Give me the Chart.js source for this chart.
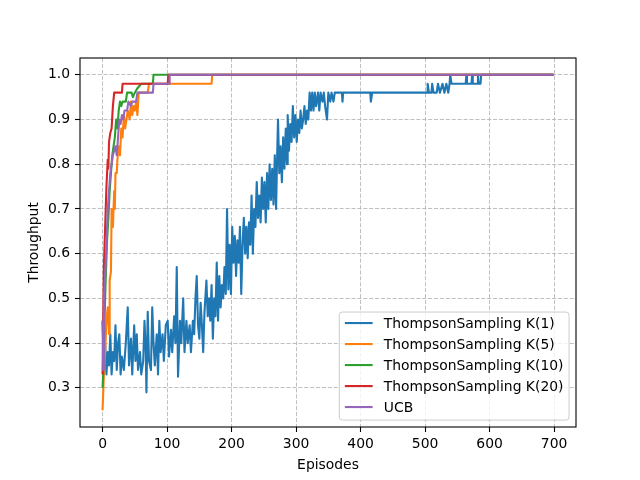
<!DOCTYPE html>
<html>
<head>
<meta charset="utf-8">
<script src="https://cdn.jsdelivr.net/npm/chart.js@4.4.1/dist/chart.umd.min.js"></script>
<style>
html,body{margin:0;padding:0;background:#fff;}
canvas{display:block;}
</style>
</head>
<body>
<canvas id="c" width="640" height="480"></canvas>
<script>
// ---------------- data ----------------
const seriesNames = ["ThompsonSampling K(1)", "ThompsonSampling K(5)", "ThompsonSampling K(10)", "ThompsonSampling K(20)", "UCB"];
const xTicks = [0, 100, 200, 300, 400, 500, 600, 700];
const yTicks = [0.3, 0.4, 0.5, 0.6, 0.7, 0.8, 0.9, 1.0];

const k1Episodes = [0,2,4,6,8,10,12,14,16,18,20,22,24,26,28,30,33,36,39,41,44,46,49,51,53,55,58,60,63,65,67,68,70,72,75,77,79,81,84,86,88,90,93,95,98,101,103,106,108,111,113,115,117,120,122,125,127,130,132,135,137,140,142,144,146,148,150,152,154,156,158,161,163,165,167,169,171,173,175,177,179,181,183,185,187,189,191,193,195,197,199,201,203,205,207,209,211,213,215,217,219,221,223,225,227,229,231,233,235,237,239,241,243,245,247,249,251,253,255,257,259,261,263,265,267,269,271,272,274,276,278,280,282,284,286,287,289,291,293,295,297,299,301,303,305,307,309,311,313,315,317,319,321,323,325,327,329,331,334,336,338,341,343,345,348,350,353,355,358,360,371,372,373,415,416,418,503,504,506,510,511,513,518,520,523,527,530,533,536,538,539,541,563,564,565,572,573,574,581,582,583,586,587,699];
const k1Values = [0.45,0.34,0.40,0.33,0.38,0.35,0.42,0.33,0.38,0.36,0.44,0.34,0.40,0.42,0.33,0.37,0.34,0.40,0.48,0.35,0.41,0.33,0.44,0.36,0.42,0.34,0.38,0.33,0.36,0.45,0.38,0.29,0.47,0.36,0.34,0.48,0.40,0.35,0.42,0.33,0.45,0.38,0.42,0.36,0.44,0.45,0.37,0.43,0.38,0.46,0.40,0.57,0.325,0.45,0.40,0.50,0.38,0.45,0.40,0.44,0.38,0.45,0.42,0.50,0.55,0.44,0.41,0.49,0.44,0.38,0.47,0.54,0.46,0.50,0.45,0.53,0.41,0.50,0.46,0.58,0.45,0.55,0.48,0.53,0.50,0.57,0.51,0.70,0.52,0.62,0.51,0.66,0.58,0.64,0.55,0.63,0.58,0.66,0.51,0.62,0.68,0.60,0.66,0.59,0.67,0.62,0.73,0.60,0.70,0.66,0.76,0.68,0.73,0.67,0.77,0.70,0.76,0.67,0.78,0.70,0.80,0.72,0.79,0.71,0.82,0.70,0.84,0.90,0.78,0.84,0.76,0.86,0.79,0.88,0.80,0.91,0.83,0.89,0.85,0.93,0.86,0.91,0.85,0.90,0.87,0.92,0.88,0.90,0.93,0.89,0.92,0.90,0.96,0.92,0.96,0.92,0.96,0.93,0.96,0.92,0.96,0.94,0.96,0.93,0.90,0.96,0.94,0.96,0.94,0.96,0.96,0.94,0.96,0.96,0.94,0.96,0.96,0.98,0.96,0.96,0.98,0.96,0.96,0.98,0.96,0.98,0.96,0.98,0.96,0.98,1.0,0.98,0.98,1.0,0.98,0.98,1.0,0.98,0.98,1.0,0.98,0.98,1.0,1.0];

const k5Episodes = [0,2,4,6,8,10,11,13,14,16,18,19,20,22,23,25,27,29,31,33,35,37,39,42,44,46,48,50,52,54,56,70,72,169,170,699];
const k5Values = [0.25,0.33,0.38,0.45,0.48,0.42,0.54,0.56,0.70,0.66,0.74,0.70,0.78,0.78,0.81,0.84,0.82,0.88,0.86,0.91,0.88,0.90,0.92,0.90,0.94,0.91,0.93,0.92,0.94,0.91,0.96,0.96,0.98,0.98,1.0,1.0];

const k10Episodes = [0,1,3,5,7,9,11,13,15,17,19,21,23,25,27,29,31,36,38,45,47,50,54,60,78,79,699];
const k10Values = [0.30,0.33,0.45,0.55,0.63,0.68,0.74,0.78,0.82,0.84,0.86,0.90,0.88,0.92,0.94,0.93,0.94,0.94,0.96,0.96,0.95,0.96,0.97,0.98,0.98,1.0,1.0];

const k20Episodes = [0,2,4,6,8,9,10,12,14,16,18,30,31,101,102,699];
const k20Values = [0.33,0.57,0.66,0.75,0.81,0.79,0.85,0.87,0.88,0.93,0.96,0.96,0.98,0.98,1.0,1.0];

const ucbEpisodes = [0,1,2,4,6,8,10,12,14,16,18,20,22,24,26,28,30,32,34,38,40,44,46,52,54,78,79,103,104,699];
const ucbValues = [0.45,0.34,0.50,0.55,0.62,0.70,0.74,0.78,0.80,0.82,0.83,0.84,0.82,0.86,0.90,0.89,0.91,0.90,0.92,0.92,0.94,0.93,0.94,0.94,0.96,0.96,0.98,0.98,1.0,1.0];

const colors = ["#1f77b4", "#ff7f0e", "#2ca02c", "#d62728", "#9467bd"];
// --------------------------------------

const allEpisodes = [k1Episodes, k5Episodes, k10Episodes, k20Episodes, ucbEpisodes];
const allValues = [k1Values, k5Values, k10Values, k20Values, ucbValues];

const FONT = "'DejaVu Sans', sans-serif";
const FS = 13.9;
Chart.defaults.font.family = FONT;
Chart.defaults.font.size = FS;
Chart.defaults.color = "#000";

const datasets = seriesNames.map((name, i) => ({
  label: name,
  data: allEpisodes[i].map((e, j) => ({x: e, y: allValues[i][j]})),
  borderColor: colors[i],
  backgroundColor: colors[i],
  borderWidth: 2.1,
  pointRadius: 0,
  tension: 0,
  fill: false,
  order: seriesNames.length - 1 - i,
  borderJoinStyle: 'round',
  borderCapStyle: 'butt'
}));

const framePlugin = {
  id: 'frameAndLegend',
  afterDatasetsDraw(chart) {
    const ctx = chart.ctx;
    const a = chart.chartArea;
    ctx.save();
    ctx.strokeStyle = '#000';
    ctx.lineWidth = 1.1;
    ctx.strokeRect(a.left, a.top, a.right - a.left, a.bottom - a.top);

    // legend (matplotlib style, lower right)
    ctx.font = FS + 'px ' + FONT;
    let maxW = 0;
    seriesNames.forEach(n => { maxW = Math.max(maxW, ctx.measureText(n).width); });
    const pad = 0.4 * FS, handleLen = 2.0 * FS, handlePad = 0.8 * FS, axPad = 0.5 * FS;
    const rowH = 21;
    const boxW = pad + handleLen + handlePad + maxW + pad;
    const boxH = 108;
    const right = a.right - axPad, bottom = a.bottom - axPad;
    const left = right - boxW, top = bottom - boxH;
    const r = 3;
    ctx.beginPath();
    ctx.moveTo(left + r, top);
    ctx.lineTo(right - r, top);
    ctx.arcTo(right, top, right, top + r, r);
    ctx.lineTo(right, bottom - r);
    ctx.arcTo(right, bottom, right - r, bottom, r);
    ctx.lineTo(left + r, bottom);
    ctx.arcTo(left, bottom, left, bottom - r, r);
    ctx.lineTo(left, top + r);
    ctx.arcTo(left, top, left + r, top, r);
    ctx.closePath();
    ctx.fillStyle = 'rgba(255,255,255,0.8)';
    ctx.fill();
    ctx.strokeStyle = '#cccccc';
    ctx.lineWidth = 1;
    ctx.stroke();

    ctx.textBaseline = 'middle';
    ctx.textAlign = 'left';
    seriesNames.forEach((n, i) => {
      const cy = top + 11 + i * rowH;
      ctx.strokeStyle = colors[i];
      ctx.lineWidth = 2.1;
      ctx.beginPath();
      ctx.moveTo(left + pad, cy);
      ctx.lineTo(left + pad + handleLen, cy);
      ctx.stroke();
      ctx.fillStyle = '#000';
      ctx.fillText(n, left + pad + handleLen + handlePad, cy + 1);
    });
    ctx.restore();
  }
};

new Chart(document.getElementById('c'), {
  type: 'line',
  data: { datasets },
  options: {
    responsive: false,
    animation: false,
    devicePixelRatio: 1,
    layout: { padding: { left: 0, right: 64, top: 58, bottom: 0 } },
    plugins: { legend: { display: false }, tooltip: { enabled: false } },
    scales: {
      x: {
        type: 'linear',
        min: -35, max: 734,
        afterBuildTicks: s => { s.ticks = xTicks.map(v => ({value: v})); },
        afterFit: s => { s.height = 53; },
        ticks: { padding: 4, maxRotation: 0, autoSkip: false, callback: v => String(v), font: {size: FS} },
        grid: { color: '#b0b0b0', lineWidth: 0.8, tickColor: '#000', tickLength: 5, tickWidth: 1.1 },
        border: { display: false, dash: [4.1, 1.8] },
        title: { display: true, text: 'Episodes', font: {size: FS}, padding: {top: 0, bottom: 6} }
      },
      y: {
        type: 'linear',
        min: 0.2125, max: 1.0375,
        afterBuildTicks: s => { s.ticks = yTicks.map(v => ({value: v})); },
        afterFit: s => { s.width = 80; },
        ticks: { padding: 5, autoSkip: false, callback: v => v.toFixed(1), font: {size: FS} },
        grid: { color: '#b0b0b0', lineWidth: 0.8, tickColor: '#000', tickLength: 5, tickWidth: 1.1 },
        border: { display: false, dash: [4.1, 1.8] },
        title: { display: true, text: 'Throughput', font: {size: FS}, padding: {top: 26, bottom: 0} }
      }
    }
  },
  plugins: [framePlugin]
});
</script>
</body>
</html>
